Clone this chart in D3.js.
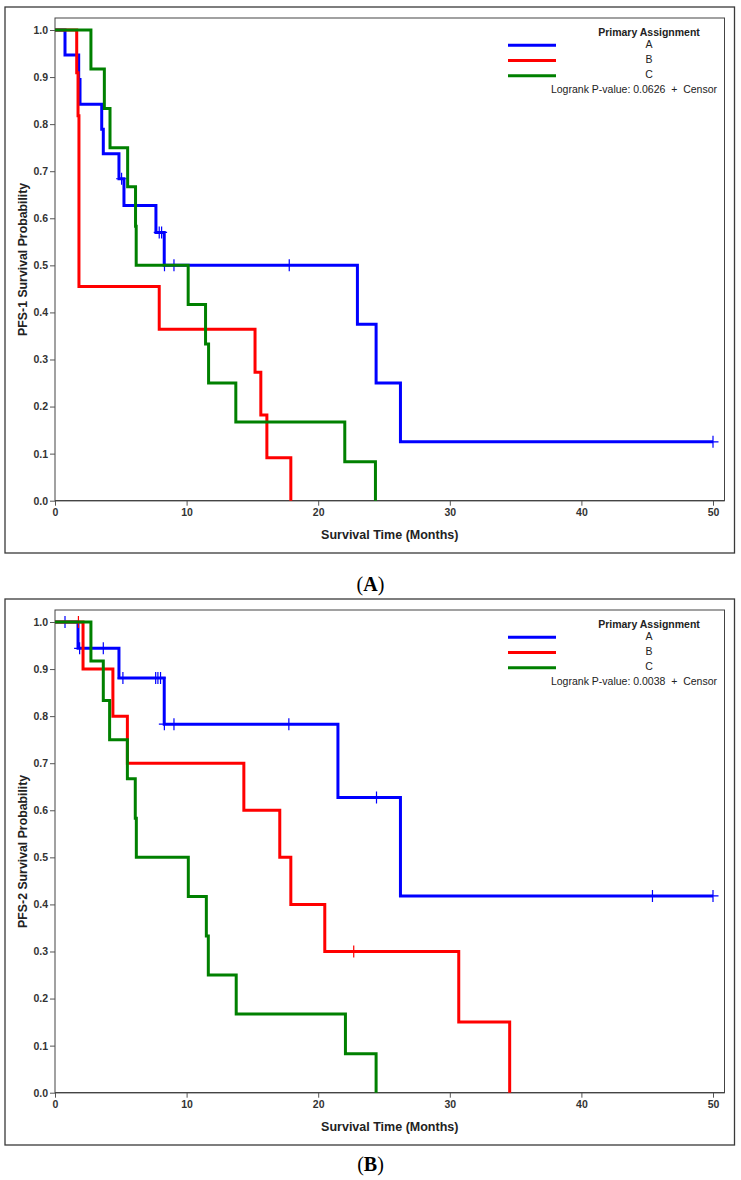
<!DOCTYPE html>
<html>
<head>
<meta charset="utf-8">
<script src="https://cdn.jsdelivr.net/npm/d3@7"></script>
<style>
  html, body { margin: 0; padding: 0; background: #fff; }
  svg { display: block; }
</style>
</head>
<body>
<svg id="chart" width="741" height="1180"></svg>
<script>
// ---------------- DATA ----------------
const groups = ["A", "B", "C"];
const groupColors = ["#0000FF", "#FF0000", "#008000"];
const xTicks = [0, 10, 20, 30, 40, 50];
const yTicks = [0.0, 0.1, 0.2, 0.3, 0.4, 0.5, 0.6, 0.7, 0.8, 0.9, 1.0];

// Panel A (PFS-1)
const pfs1_A_times = [0.76, 1.8, 1.9, 3.55, 3.67, 4.86, 5.24, 7.67, 8.3, 22.98, 24.4, 26.25];
const pfs1_A_surv  = [0.947, 0.895, 0.842, 0.789, 0.737, 0.684, 0.627, 0.570, 0.500, 0.375, 0.250, 0.125];
const pfs1_A_cens  = [5.06, 7.92, 8.1, 8.32, 9.04, 17.8, 50];
const pfs1_B_times = [1.65, 1.75, 1.82, 7.92, 15.2, 15.64, 16.1, 17.92];
const pfs1_B_surv  = [0.909, 0.818, 0.455, 0.364, 0.273, 0.182, 0.091, 0.0];
const pfs1_B_cens  = [];
const pfs1_C_times = [2.73, 3.75, 4.18, 5.52, 6.12, 6.17, 10.12, 11.44, 11.67, 13.74, 22.02, 24.35];
const pfs1_C_surv  = [0.917, 0.833, 0.750, 0.667, 0.583, 0.500, 0.417, 0.333, 0.250, 0.167, 0.083, 0.0];
const pfs1_C_cens  = [];

// Panel B (PFS-2)
const pfs2_A_times = [1.75, 4.86, 8.3, 21.5, 26.25];
const pfs2_A_surv  = [0.944, 0.881, 0.783, 0.627, 0.418];
const pfs2_A_cens  = [0.76, 1.87, 3.67, 5.16, 7.65, 7.82, 8.02, 8.31, 9.04, 17.77, 24.43, 45.4, 50];
const pfs2_B_times = [2.13, 4.4, 5.5, 14.35, 17.08, 17.92, 20.5, 30.68, 34.55];
const pfs2_B_surv  = [0.9, 0.8, 0.7, 0.6, 0.5, 0.4, 0.3, 0.15, 0.0];
const pfs2_B_cens  = [1.78, 22.7];
const pfs2_C_times = [2.73, 3.67, 4.15, 5.5, 6.1, 6.18, 10.13, 11.5, 11.65, 13.77, 22.07, 24.4];
const pfs2_C_surv  = [0.917, 0.833, 0.750, 0.667, 0.583, 0.500, 0.417, 0.333, 0.250, 0.167, 0.083, 0.0];
const pfs2_C_cens  = [];

const followUpEnd = 50;

const panels = [
  { label: "A", yTitle: "PFS-1 Survival Probability", pvalue: "0.0626", dy: 0, capY: 591,
    series: [
      { t: pfs1_A_times, s: pfs1_A_surv, c: pfs1_A_cens },
      { t: pfs1_B_times, s: pfs1_B_surv, c: pfs1_B_cens },
      { t: pfs1_C_times, s: pfs1_C_surv, c: pfs1_C_cens }
    ] },
  { label: "B", yTitle: "PFS-2 Survival Probability", pvalue: "0.0038", dy: 592, capY: 579,
    series: [
      { t: pfs2_A_times, s: pfs2_A_surv, c: pfs2_A_cens },
      { t: pfs2_B_times, s: pfs2_B_surv, c: pfs2_B_cens },
      { t: pfs2_C_times, s: pfs2_C_surv, c: pfs2_C_cens }
    ] }
];

// ---------------- DRAW ----------------
const svg = d3.select("#chart");
const SANS = "'Liberation Sans', Arial, sans-serif";
const SERIF = "'Liberation Serif', 'Times New Roman', serif";

const x = d3.scaleLinear().domain([0, 50]).range([55, 713]);
const y = d3.scaleLinear().domain([0, 1]).range([500.7, 30]);
const frame = { left: 55, top: 18, right: 724.5, bottom: 500.7 };

const line = d3.line().x(d => x(d[0])).y(d => y(d[1])).curve(d3.curveStepAfter);

function survAt(ser, t) {
  let s = 1;
  for (let i = 0; i < ser.t.length; i++) if (ser.t[i] <= t) s = ser.s[i];
  return s;
}

panels.forEach(p => {
  const g = svg.append("g").attr("transform", `translate(0,${p.dy})`);

  // outer box
  g.append("rect").attr("x", 5).attr("y", 7).attr("width", 729.5).attr("height", 546)
    .attr("fill", "none").attr("stroke", "#3a3a3a").attr("stroke-width", 1.3);

  // inner frame
  g.append("rect").attr("x", frame.left).attr("y", frame.top)
    .attr("width", frame.right - frame.left).attr("height", frame.bottom - frame.top)
    .attr("fill", "none").attr("stroke", "#444").attr("stroke-width", 1);

  // axes
  const xAxis = g.append("g").attr("transform", `translate(0,${y(0)})`)
    .call(d3.axisBottom(x).tickValues(xTicks).tickSize(5).tickPadding(3).tickFormat(d3.format("d")));
  const yAxis = g.append("g").attr("transform", `translate(${x(0)},0)`)
    .call(d3.axisLeft(y).tickValues(yTicks).tickSize(5).tickPadding(2).tickFormat(d3.format(".1f")));
  [xAxis, yAxis].forEach(a => {
    a.select(".domain").remove();
    a.selectAll(".tick line").attr("stroke", "#555");
    a.selectAll(".tick text").attr("font-family", SANS).attr("font-size", 10.5)
      .attr("font-weight", "bold").attr("fill", "#333");
  });
  g.append("line").attr("x1", frame.left).attr("x2", frame.right)
    .attr("y1", y(0)).attr("y2", y(0)).attr("stroke", "#444").attr("stroke-width", 1.2);

  // axis titles
  g.append("text").attr("x", (frame.left + frame.right) / 2).attr("y", 539)
    .attr("text-anchor", "middle").attr("font-family", SANS).attr("font-size", 12.5)
    .attr("font-weight", "bold").attr("fill", "#222").text("Survival Time (Months)");
  g.append("text").attr("transform", `translate(27,${(frame.top + frame.bottom) / 2}) rotate(-90)`)
    .attr("text-anchor", "middle").attr("font-family", SANS).attr("font-size", 12.3)
    .attr("font-weight", "bold").attr("fill", "#222").text(p.yTitle);

  // curves
  p.series.forEach((ser, i) => {
    const pts = [[0, 1]];
    ser.t.forEach((t, k) => pts.push([t, ser.s[k]]));
    const last = ser.s[ser.s.length - 1];
    const endT = last > 0 ? followUpEnd : ser.t[ser.t.length - 1];
    pts.push([endT, last]);
    g.append("path").attr("d", line(pts)).attr("fill", "none")
      .attr("stroke", groupColors[i]).attr("stroke-width", 3).attr("stroke-linejoin", "miter");
    // censor marks
    ser.c.forEach(ct => {
      const cx = x(ct), cy = y(survAt(ser, ct));
      g.append("path").attr("d", `M${cx - 5.5},${cy}H${cx + 5.5}M${cx},${cy - 6}V${cy + 6}`)
        .attr("stroke", groupColors[i]).attr("stroke-width", 1.2).attr("fill", "none");
    });
  });

  // legend
  const lg = g.append("g");
  lg.append("text").attr("x", 649).attr("y", 36).attr("text-anchor", "middle")
    .attr("font-family", SANS).attr("font-size", 10.5).attr("font-weight", "bold")
    .attr("fill", "#222").text("Primary Assignment");
  groups.forEach((gr, i) => {
    const ly = 45.3 + i * 15.2;
    lg.append("line").attr("x1", 508).attr("x2", 556).attr("y1", ly).attr("y2", ly)
      .attr("stroke", groupColors[i]).attr("stroke-width", 3);
    lg.append("text").attr("x", 649).attr("y", ly + 2.6).attr("text-anchor", "middle")
      .attr("font-family", SANS).attr("font-size", 10.5).attr("fill", "#222").text(gr);
  });
  lg.append("text").attr("x", 717).attr("y", 93).attr("text-anchor", "end")
    .attr("font-family", SANS).attr("font-size", 10.5).attr("fill", "#222")
    .attr("xml:space", "preserve")
    .text(`Logrank P-value: ${p.pvalue}  +  Censor`);

  // caption
  const cap = g.append("text").attr("x", 370.5).attr("y", p.capY).attr("text-anchor", "middle")
    .attr("font-family", SERIF).attr("font-size", 20).attr("fill", "#000");
  cap.append("tspan").text("(");
  cap.append("tspan").attr("font-weight", "bold").text(p.label);
  cap.append("tspan").text(")");
});
</script>
</body>
</html>
